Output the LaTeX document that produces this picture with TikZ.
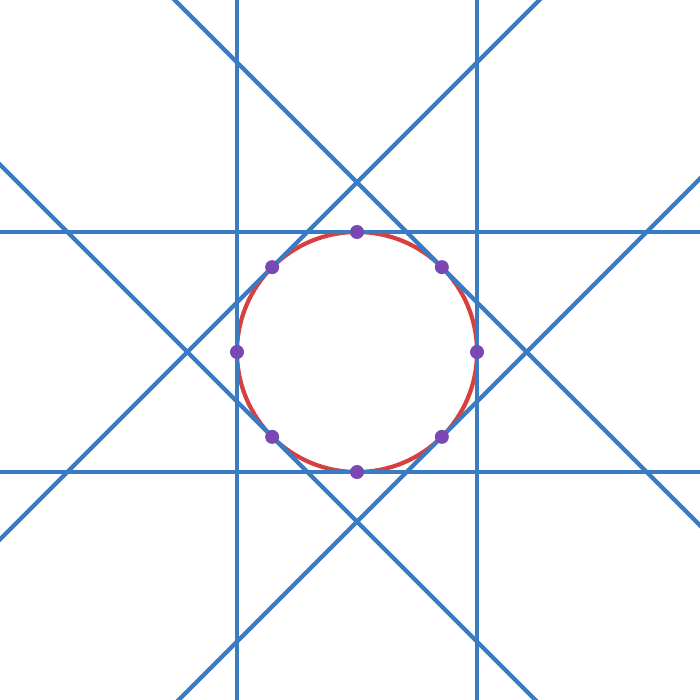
\documentclass[tikz,border=0pt]{standalone}
\usepackage{tikz}
\usetikzlibrary{calc}
\definecolor{tanblue}{RGB}{58,124,196}
\definecolor{circred}{RGB}{214,64,64}
\definecolor{dotpurple}{RGB}{122,72,180}

\begin{document}
\begin{tikzpicture}[x=1pt,y=-1pt,
  tangent/.style={draw=tanblue,line width=4.2pt},
  circ/.style={draw=circred,line width=4.2pt},
  touch/.style={circle,fill=dotpurple,inner sep=0pt,minimum size=14pt}]
\useasboundingbox (0,0) rectangle (700,700);
\clip (0,0) rectangle (700,700);
\coordinate (O) at (357,352);
\draw[circ] (O) circle (120);
% tangent lines at the eight touch points
\foreach \a in {0,45,...,315}{
  \draw[tangent] ($(O)+(\a:120)+(\a+90:800)$) -- ($(O)+(\a:120)+(\a-90:800)$);
}
\foreach \a [count=\i] in {0,45,...,315}{
  \node[touch] (p\i) at ($(O)+(\a:120)$) {};
}
\end{tikzpicture}
\end{document}
